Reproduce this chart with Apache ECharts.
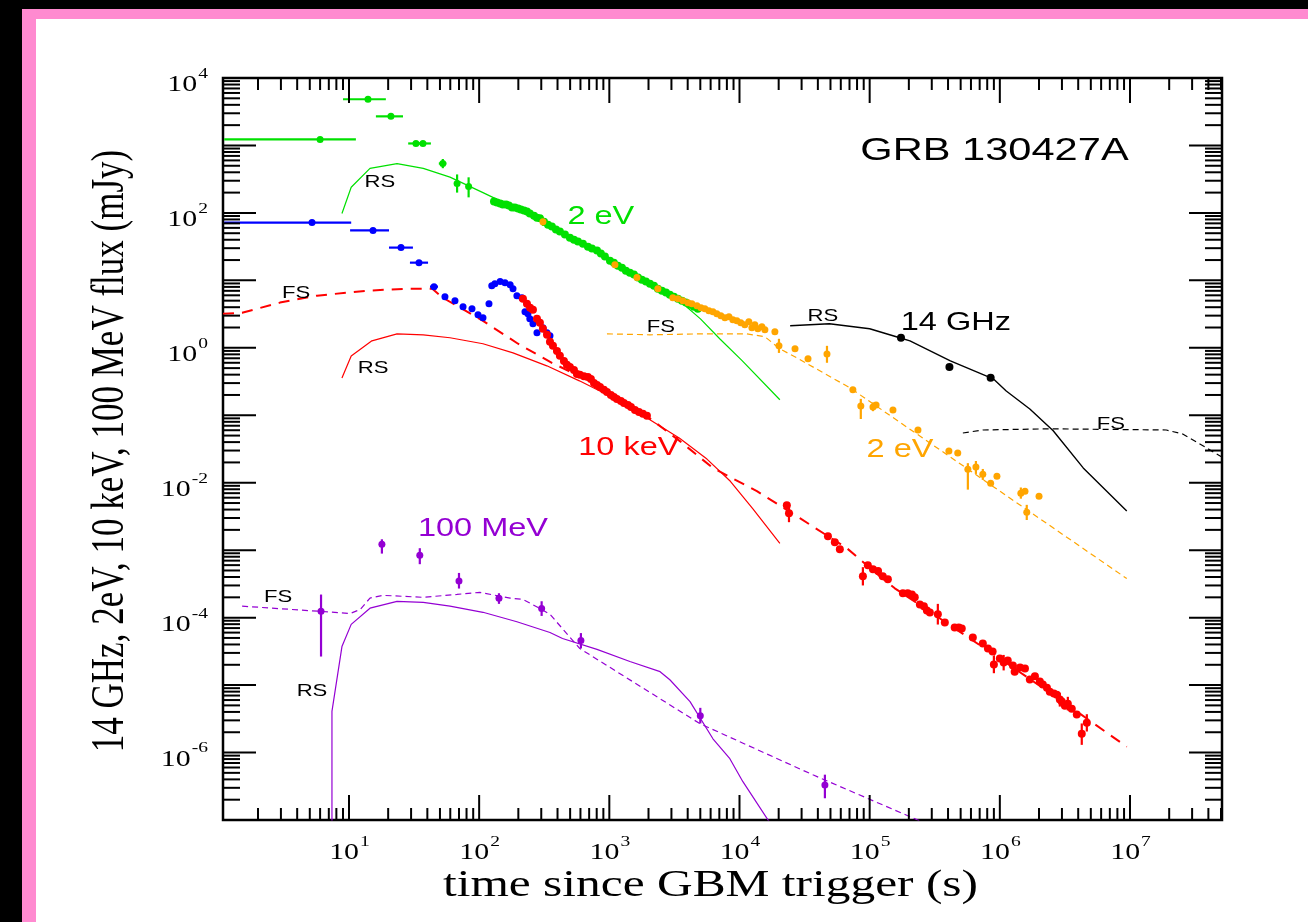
<!DOCTYPE html>
<html><head><meta charset="utf-8">
<script src="https://cdn.jsdelivr.net/npm/echarts@6/dist/echarts.min.js"></script>
<style>
html,body{margin:0;padding:0;background:#000;width:1308px;height:922px;overflow:hidden}
#pink{position:absolute;left:22px;top:9px;right:0;bottom:0;background:#ff8ad0}
#white{position:absolute;left:36px;top:19px;right:0;bottom:0;background:#fff}
#chart{position:absolute;left:0;top:0;width:1308px;height:922px}
</style></head><body>
<div id="pink"></div><div id="white"></div><div id="chart"></div>
<script>
// ---------------- axis ranges & tick labels ----------------
const X_MIN = 1.077, X_MAX = 5.09e7;
const Y_MIN = 1e-7, Y_MAX = 1e4;
const xLabelExps = [1, 2, 3, 4, 5, 6, 7];
const yLabelExps = [-6, -4, -2, 0, 2, 4];
const xTitle = 'time since GBM trigger (s)';
const yTitle = '14 GHz, 2eV, 10 keV, 100 MeV flux (mJy)';

// ---------------- data: [time (s), flux (mJy)] ----------------
const greenEarly = [[6.0,1230],[14,4840],[21,2700],[32.7,1070],[37,1070],[52.6,540],[67.7,274],[83,246]];
// errors: [t, f, tLo, tHi, fLo, fHi]
const greenEarlyErr = [
  [6.0,1230,1.1,11.3,1230,1230],[14,4840,9.0,19.2,4840,4840],[21,2700,16.1,26,2700,2700],
  [32.7,1070,28.5,35.5,1070,1070],[37,1070,34,42.6,1070,1070],[52.6,540,49,56,460,630],
  [67.7,274,67.7,67.7,200,372],[83,246,83,83,170,337]
];
const greenLate = [[130,148],[137,143],[145,138],[152,133],[161,133],[169,129],[179,120],[188,120],[199,116],[209,112],[221,109],[233,105],[245,98],[264,91],[278,85],[293,83],[315,74],[338,67],[362,63],[389,57],[417,53],[456,48],[498,43],[535,40],[574,37.6],[627,35],[685,31.6],[735,29.6],[804,27.6],[861,25],[925,22.5],[1011,19.6],[1084,18.3],[1164,16.5],[1250,15.4],[1340,13.9],[1439,13.0],[1545,12.2],[1660,11.0],[1778,10.2],[1910,9.6],[2051,8.9],[2203,8.3],[2360,7.5],[2535,7.0],[2723,6.6],[2917,6.1],[3133,5.7],[3365,5.35],[3614,5.0],[3873,4.7],[4159,4.35],[4467,4.06],[4786,3.8]];
const orangePts = [[309,74],[1104,17.1],[1630,11],[2360,7.5],[3076,5.53],[3365,5.35],[3673,5.0],[4018,4.67],[4306,4.5],[4710,4.2],[5058,3.93],[5420,3.8],[5821,3.55],[6252,3.43],[6699,3.2],[7194,2.99],[7727,2.79],[8299,2.89],[8892,2.61],[9550,2.52],[10230,2.35],[10990,2.2],[11800,2.43],[12450,1.98],[13120,2.2],[13840,1.92],[14860,2.05],[15670,1.85],[18700,1.73],[20100,1.07],[26700,0.97],[33600,0.69],[47000,0.81],[74300,0.238],[85500,0.137],[1.06e5,0.133],[1.12e5,0.142],[1.51e5,0.12],[2.35e5,0.0605],[4.06e5,0.0295],[4.75e5,0.0275],[5.68e5,0.0159],[6.55e5,0.0171],[7.4e5,0.0134],[8.5e5,0.00986],[9.5e5,0.0125],[1.45e6,0.007],[1.56e6,0.0075],[2.0e6,0.0063],[1.61e6,0.00366]];
const orangeErr = [
  [309,74,309,309,64,86],[20100,1.07,20100,20100,0.84,1.36],[47000,0.81,47000,47000,0.60,1.07],
  [85500,0.137,85500,85500,0.088,0.175],[1.06e5,0.133,1.06e5,1.06e5,0.115,0.155],
  [5.68e5,0.0159,5.68e5,5.68e5,0.0079,0.0195],[6.55e5,0.0171,6.55e5,6.55e5,0.0135,0.021],
  [7.4e5,0.0134,7.4e5,7.4e5,0.011,0.016],[1.45e6,0.007,1.45e6,1.45e6,0.0058,0.0085],
  [1.61e6,0.00366,1.61e6,1.61e6,0.0028,0.0047]
];
const bluePts = [[5.2,72],[15.3,55],[25.1,30.6],[34.5,18.3],[45,8.06],[54.6,5.73],[65.2,5.0],[75.2,4.07],[88.1,3.8],[98,3.1],[107,2.79],[119,4.5],[125,8.3],[132,8.9],[145,9.6],[158,9.2],[173,8.6],[182,7.5],[195,5.93],[213,5.53],[225,3.43],[237,3.2],[245,2.7],[259,2.27],[278,1.67],[309,1.98],[332,1.67],[350,1.51]];
const blueErr = [
  [5.2,72,1.1,10.4,72,72],[15.3,55,10.2,20.3,55,55],[25.1,30.6,20.3,31,30.6,30.6],
  [34.5,18.3,29.4,40.5,18.3,18.3],[45,8.06,41.9,48.3,8.06,8.06]
];
const redPts = [[217,5.35],[233,4.5],[246,3.93],[259,3.67],[278,2.7],[293,2.35],[309,1.92],[332,1.56],[350,1.23],[369,1.07],[396,0.90],[417,0.76],[448,0.64],[472,0.56],[498,0.52],[535,0.47],[564,0.41],[594,0.40],[638,0.38],[685,0.37],[722,0.346],[762,0.30],[804,0.28],[848,0.263],[908,0.238],[959,0.222],[1028,0.20],[1084,0.187],[1143,0.175],[1227,0.163],[1294,0.152],[1390,0.142],[1466,0.133],[1574,0.12],[1688,0.112],[1811,0.105],[1945,0.098],
  [23100,4.65e-3],[24000,3.53e-3],[47800,1.61e-3],[54000,1.31e-3],[59000,1.03e-3],[88700,4.09e-4],[96800,5.97e-4],[1.06e5,5.2e-4],[1.16e5,4.9e-4],[1.26e5,4.09e-4],[1.38e5,3.7e-4],[1.8e5,2.29e-4],[1.96e5,2.29e-4],[2.11e5,2.21e-4],[2.22e5,2.0e-4],[2.43e5,1.57e-4],[2.61e5,1.47e-4],[2.75e5,1.28e-4],[2.9e5,1.19e-4],[3.34e5,1.12e-4],[3.78e5,8.5e-5],[4.5e5,7.15e-5],[4.84e5,7.15e-5],[5.1e5,6.9e-5],[6.2e5,5.08e-5],[7.4e5,4.14e-5],[8.1e5,3.48e-5],[8.8e5,3.15e-5],[9.0e5,2.02e-5],[1.0e6,2.48e-5],[1.07e6,2.16e-5],[1.15e6,2.31e-5],[1.26e6,1.95e-5],[1.3e6,1.58e-5],[1.43e6,1.82e-5],[1.56e6,1.76e-5],[1.7e6,1.21e-5],[1.86e6,1.35e-5],[2.03e6,1.13e-5],[2.14e6,1.02e-5],[2.3e6,9.1e-6],[2.42e6,8.0e-6],[2.6e6,7.5e-6],[2.74e6,7.2e-6],[2.89e6,6.1e-6],[2.99e6,5.7e-6],[3.16e6,4.96e-6],[3.33e6,5.3e-6],[3.57e6,4.47e-6],[3.9e6,3.65e-6],[4.26e6,1.9e-6],[4.66e6,2.77e-6]];
const redErr = [
  [24000,3.53e-3,24000,24000,2.6e-3,4.8e-3],[88700,4.09e-4,88700,88700,3.0e-4,5.6e-4],
  [3.34e5,1.12e-4,3.34e5,3.34e5,7.9e-5,1.6e-4],[9.0e5,2.02e-5,9.0e5,9.0e5,1.5e-5,2.7e-5],
  [1.07e6,2.16e-5,1.07e6,1.07e6,1.65e-5,2.8e-5],[2.89e6,6.1e-6,2.89e6,2.89e6,4.8e-6,7.7e-6],
  [3.33e6,5.3e-6,3.33e6,3.33e6,4.2e-6,6.7e-6],[4.26e6,1.9e-6,4.26e6,4.26e6,1.3e-6,2.7e-6],
  [4.66e6,2.77e-6,4.66e6,4.66e6,2.05e-6,3.7e-6]
];
const blackPts = [[1.74e5,1.41],[4.1e5,0.52],[8.5e5,0.36]];
const purplePts = [[6.1,1.24e-4],[17.9,1.22e-3],[35,8.4e-4],[70,3.5e-4],[142,1.94e-4],[302,1.37e-4],[605,4.6e-5],[5000,3.5e-6],[45300,3.3e-7]];
const purpleErr = [
  [6.1,1.24e-4,6.1,6.1,2.65e-5,2.2e-4],[17.9,1.22e-3,17.9,17.9,8.9e-4,1.45e-3],
  [35,8.4e-4,35,35,6.2e-4,1.07e-3],[70,3.5e-4,70,70,2.7e-4,4.6e-4],
  [142,1.94e-4,142,142,1.6e-4,2.3e-4],[302,1.37e-4,302,302,1.06e-4,1.75e-4],
  [605,4.6e-5,605,605,3.5e-5,5.9e-5],[5000,3.5e-6,5000,5000,2.7e-6,4.6e-6],
  [45300,3.3e-7,45300,45300,2.1e-7,4.7e-7]
];

// ---------------- model curves ----------------
const greenRS = [[8.83,98],[10.4,240],[14.5,457],[23.4,537],[37.2,457],[59.7,339],[107,200],[204,110],[417,55],[851,25.7],[1718,11.7],[3311,5.37],[5012,2.69],[7079,1.35],[10470,0.646],[20420,0.17]];
const redFS = [[1.077,3.2],[1.51,3.31],[2.95,4.68],[5.68,5.93],[13.7,7.03],[27.9,7.53],[43.7,7.53],[52.5,5.53],[107,2.51],[199,1.15],[362,0.598],[848,0.272],[1718,0.116],[3467,0.0417],[6252,0.0165],[13610,7.5e-3],[29100,2.98e-3],[66800,1.07e-3],[1.2e5,4.09e-4],[1.56e5,2.72e-4],[1e6,2.48e-5],[2.89e6,6.1e-6],[9.44e6,1.22e-6]];
const redRS = [[8.83,0.358],[10.4,0.759],[15.0,1.27],[23.4,1.61],[37.2,1.56],[59.7,1.41],[107,1.15],[182,0.843],[331,0.541],[589,0.324],[1072,0.182],[1950,0.0912],[3467,0.0457],[5623,0.0224],[8511,0.0105],[12590,4.17e-3],[20420,1.26e-3]];
const orangeFS = [[959,1.61],[2051,1.56],[4966,1.61],[11400,1.61],[15670,1.46],[20420,0.966],[27600,0.71],[70500,0.255],[1e6,7.5e-3],[9.44e6,3.8e-4]];
const blackRS = [[24500,2.12],[49000,2.27],[1e5,1.92],[1.7e5,1.41],[2.04e5,1.27],[4.17e5,0.641],[8.9e5,0.347],[1.12e6,0.229],[1.7e6,0.124],[2.57e6,0.0589],[4.37e6,0.0166],[9.44e6,3.8e-3]];
const blackFS = [[5.2e5,0.0546],[7.41e5,0.0605],[2.4e6,0.063],[1.9e7,0.0605],[2.54e7,0.0527],[3.44e7,0.0375],[5.09e7,0.024]];
const purpleFS = [[1.51,1.48e-4],[5.98,1.24e-4],[10.2,1.15e-4],[12.2,1.32e-4],[14.5,1.95e-4],[18.2,2.14e-4],[37.2,2.0e-4],[67.6,2.21e-4],[101,2.37e-4],[173,1.95e-4],[217,1.86e-4],[293,1.37e-4],[350,1.12e-4],[594,3.48e-5],[4966,2.68e-6],[36600,4.68e-7],[2.34e5,1.0e-7],[1e6,2.8e-8]];
const purpleRS = [[7.4,3.2e-8],[7.4,4.07e-6],[8.83,3.72e-5],[10.4,7.94e-5],[14.5,1.38e-4],[23.4,1.74e-4],[37.2,1.68e-4],[59.7,1.48e-4],[107,1.2e-4],[195,8.7e-5],[350,6.03e-5],[437,4.9e-5],[804,3.39e-5],[1439,2.24e-5],[2455,1.58e-5],[2917,1.2e-5],[4169,5.69e-6],[6252,1.6e-6],[8433,8.1e-7],[10620,3.7e-7],[16980,9.3e-8],[19950,6.3e-8]];

// ---------------- text annotations (anchored in data coords) ----------------
const annotations = [
  {text:'GRB 130427A', t:9.1e5, f:817, color:'#000000', size:32},
  {text:'2 eV', t:861, f:88, color:'#00e000', size:25},
  {text:'RS', t:17.3, f:283, color:'#000000', size:17},
  {text:'FS', t:3.92, f:6.34, color:'#000000', size:17},
  {text:'RS', t:15.3, f:0.505, color:'#000000', size:17},
  {text:'10 keV', t:1413, f:0.0327, color:'#ff0000', size:25},
  {text:'FS', t:2489, f:1.98, color:'#000000', size:17},
  {text:'RS', t:43700, f:2.89, color:'#000000', size:17},
  {text:'14 GHz', t:4.59e5, f:2.35, color:'#000000', size:25},
  {text:'FS', t:7.13e6, f:0.0743, color:'#000000', size:17},
  {text:'2 eV', t:1.71e5, f:0.0305, color:'#ffa500', size:25},
  {text:'100 MeV', t:107, f:2.04e-3, color:'#9400d3', size:25},
  {text:'FS', t:2.85, f:2.0e-4, color:'#000000', size:17},
  {text:'RS', t:5.2, f:8.0e-6, color:'#000000', size:17}
];

const GREEN = '#00e000', BLUE = '#0000ff', RED = '#ff0000', ORANGE = '#ffa500', PURPLE = '#9400d3', BLACK = '#000000';
const SX = 1.3; // horizontal stretch of all text in the reference
const SERIF = '"Liberation Serif","Times New Roman",serif';
const SANS = '"Liberation Sans",Arial,Helvetica,sans-serif';

const chart = echarts.init(document.getElementById('chart'), null, {renderer:'canvas', width:1308, height:922});

function errRender(color, lw){
  return function(params, api){
    const t = api.value(0), f = api.value(1), tl = api.value(2), th = api.value(3), fl = api.value(4), fh = api.value(5);
    const ch = [];
    if (tl !== th) {
      const a = api.coord([tl, f]), b = api.coord([th, f]);
      ch.push({type:'line', shape:{x1:a[0], y1:a[1], x2:b[0], y2:b[1]}, style:{stroke:color, lineWidth:lw}});
    }
    if (fl !== fh) {
      const a = api.coord([t, fl]), b = api.coord([t, fh]);
      ch.push({type:'line', shape:{x1:a[0], y1:a[1], x2:b[0], y2:b[1]}, style:{stroke:color, lineWidth:lw}});
    }
    return {type:'group', children:ch};
  };
}

function axisRender(params, api){
  const ch = [];
  const pBL = api.coord([X_MIN, Y_MIN]), pTR = api.coord([X_MAX, Y_MAX]);
  const xL = pBL[0], yB = pBL[1], xR = pTR[0], yT = pTR[1];
  const tick = (x1,y1,x2,y2) => ch.push({type:'line', shape:{x1,y1,x2,y2}, style:{stroke:'#000', lineWidth:2}});
  // x ticks
  for (let n = 0; n <= 8; n++) {
    for (let k = 1; k <= 9; k++) {
      const v = k * Math.pow(10, n);
      if (v < X_MIN * 1.0001 || v > X_MAX * 0.9999) continue;
      const x = api.coord([v, Y_MIN])[0];
      const len = k === 1 ? 25 : 12;
      tick(x, yB, x, yB - len);
      tick(x, yT, x, yT + len);
    }
  }
  // y ticks
  for (let n = -7; n <= 4; n++) {
    for (let k = 1; k <= 9; k++) {
      const v = k * Math.pow(10, n);
      if (v < Y_MIN * 0.9999 || v > Y_MAX * 1.0001) continue;
      const y = api.coord([X_MIN, v])[1];
      const len = k === 1 ? 33 : 17;
      tick(xL, y, xL + len, y);
      tick(xR, y, xR - len, y);
    }
  }
  // y labels
  yLabelExps.forEach(e => {
    const y = api.coord([X_MIN, Math.pow(10, e)])[1];
    const es = String(e);
    const right = xL - 15;
    ch.push({type:'text', x:right, y:y - 4, scaleX:SX, style:{text:es, fill:'#000', font:'15px ' + SERIF, align:'right', verticalAlign:'middle'}});
    const ew = (es.replace('-', '').length * 7.5 + (e < 0 ? 5 : 0)) * SX;
    ch.push({type:'text', x:right - ew - 1, y:y + 7, scaleX:SX, style:{text:'10', fill:'#000', font:'23px ' + SERIF, align:'right', verticalAlign:'middle'}});
  });
  // x labels
  xLabelExps.forEach(e => {
    const x = api.coord([Math.pow(10, e), Y_MIN])[0];
    const es = String(e);
    const w = (23 + es.length * 7.5) * SX;
    const left = x - w / 2;
    ch.push({type:'text', x:left, y:yB + 33, scaleX:SX, style:{text:'10', fill:'#000', font:'23px ' + SERIF, align:'left', verticalAlign:'middle'}});
    ch.push({type:'text', x:left + 23 * SX + 1, y:yB + 22, scaleX:SX, style:{text:es, fill:'#000', font:'15px ' + SERIF, align:'left', verticalAlign:'middle'}});
  });
  // axis titles
  ch.push({type:'text', x:(xL + xR) / 2 - 12, y:yB + 66, scaleX:SX, style:{text:xTitle, fill:'#000', font:'38px ' + SERIF, align:'center', verticalAlign:'middle'}});
  ch.push({type:'text', x:111, y:(yT + yB) / 2 + 2, rotation:Math.PI / 2, scaleY:SX, style:{text:yTitle, fill:'#000', font:'35px ' + SERIF, align:'center', verticalAlign:'middle'}});
  return {type:'group', children:ch};
}

function annRender(params, api){
  const a = annotations[params.dataIndex];
  const p = api.coord([a.t, a.f]);
  return {type:'text', x:p[0], y:p[1], scaleX:SX, style:{text:a.text, fill:a.color, font:a.size + 'px ' + SANS, align:'center', verticalAlign:'middle'}};
}

function lineS(data, color, width, type){
  return {type:'line', data, showSymbol:false, symbol:'none', silent:true, smooth:false, clip:true, z:2,
    lineStyle:{color, width, type: type || 'solid'}};
}
function scat(data, color, size){
  return {type:'scatter', data, symbol:'circle', symbolSize:size, itemStyle:{color, opacity:1}, z:5, clip:true, silent:true};
}
function errS(data, color){
  return {type:'custom', data, renderItem:errRender(color, 2.2), z:4, silent:true, clip:true};
}

chart.setOption({
  animation:false,
  backgroundColor:'transparent',
  grid:{left:223, top:78, right:86, bottom:102, show:true, borderColor:'#000', borderWidth:2.5, backgroundColor:'transparent'},
  xAxis:{type:'log', logBase:10, min:X_MIN, max:X_MAX, axisLine:{show:false}, axisTick:{show:false}, axisLabel:{show:false}, splitLine:{show:false}, minorTick:{show:false}, minorSplitLine:{show:false}},
  yAxis:{type:'log', logBase:10, min:Y_MIN, max:Y_MAX, axisLine:{show:false}, axisTick:{show:false}, axisLabel:{show:false}, splitLine:{show:false}, minorTick:{show:false}, minorSplitLine:{show:false}},
  series:[
    {type:'custom', data:[[10,1]], renderItem:axisRender, z:10, silent:true},
    lineS(greenRS, GREEN, 1.2),
    lineS(redFS, RED, 2, [11, 8]),
    lineS(redRS, RED, 1.2),
    lineS(orangeFS, ORANGE, 1.2, [6, 4]),
    lineS(blackRS, BLACK, 1.4),
    lineS(blackFS, BLACK, 1.2, [6, 4]),
    lineS(purpleFS, PURPLE, 1.2, [6, 4]),
    lineS(purpleRS, PURPLE, 1.2),
    errS(greenEarlyErr, GREEN), scat(greenEarly, GREEN, 7),
    scat(greenLate, GREEN, 8),
    errS(blueErr, BLUE), scat(bluePts, BLUE, 7),
    errS(redErr, RED), scat(redPts, RED, 8),
    errS(orangeErr, ORANGE), scat(orangePts, ORANGE, 7),
    scat(blackPts, BLACK, 8),
    errS(purpleErr, PURPLE), scat(purplePts, PURPLE, 7),
    {type:'custom', data:annotations.map(a => [a.t, a.f]), renderItem:annRender, z:8, silent:true}
  ]
});
</script></body></html>
